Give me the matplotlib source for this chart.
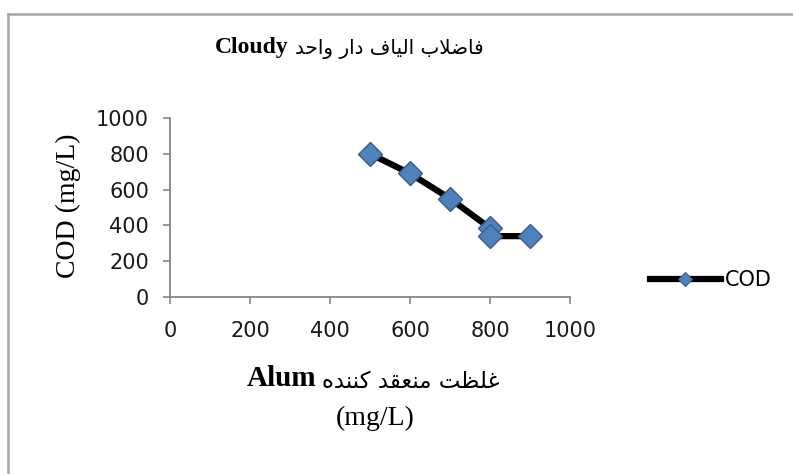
import matplotlib
matplotlib.use("Agg")
import matplotlib.pyplot as plt
from matplotlib.lines import Line2D

# COD left after coagulation, against alum dose (mg/L)
alum_dose = [500, 600, 700, 800, 800, 900]
cod = [800, 690, 550, 385, 340, 340]
x_ticks = [0, 200, 400, 600, 800, 1000]
y_ticks = [0, 200, 400, 600, 800, 1000]
series_name = "COD"

# Persian words already in presentation forms and in display order
# (matplotlib does no Arabic shaping / right-to-left layout by itself)
title_fa = ("\uFEAA\uFEA3\uFE8D\uFEED" + " " +          # واحد
            "\uFEAD\uFE8D\uFEA9" + " " +                # دار
            "\uFED1\uFE8E\uFEF4\uFEDF\uFE8D" + " " +    # الیاف
            "\uFE8F\uFEFC\uFEBF\uFE8E\uFED3")           # فاضلاب
xlabel_fa = ("\uFEE9\uFEAA\uFEE8\uFEE8\uFB90" + " " +   # کننده
             "\uFEAA\uFED8\uFECC\uFEE8\uFEE3" + " " +   # منعقد
             "\uFE96\uFEC8\uFEE0\uFECF")                # غلظت

W, H = 793, 474
BLUE = "#4F81BD"
BLUE_EDGE = "#385D8A"
AXIS_GREY = "#868686"


def fx(px):
    return px / W


def fy(py):
    return 1 - py / H


fig = plt.figure(figsize=(W / 100, H / 100), dpi=100)
fig.patch.set_facecolor("white")

ax = fig.add_axes([fx(170), fy(297), fx(570) - fx(170), fy(118) - fy(297)])
ax.plot(alum_dose, cod, color="black", lw=4.5, marker="D", ms=12,
        mfc=BLUE, mec=BLUE_EDGE, mew=1, clip_on=False, zorder=3)

ax.set_xlim(0, 1000)
ax.set_ylim(0, 1000)
ax.set_xticks(x_ticks)
ax.set_yticks(y_ticks)
for side in ["top", "right"]:
    ax.spines[side].set_visible(False)
for side in ["left", "bottom"]:
    ax.spines[side].set_color(AXIS_GREY)
    ax.spines[side].set_linewidth(1.3)
ax.tick_params(axis="both", direction="out", length=5, width=1.2,
               color=AXIS_GREY, labelsize=15, labelcolor="#1a1a1a")
ax.tick_params(axis="y", pad=10)
ax.tick_params(axis="x", pad=12)
for lab in ax.get_xticklabels() + ax.get_yticklabels():
    lab.set_family("DejaVu Sans")

# axis titles
fig.text(fx(68), fy(206), "COD (mg/L)", rotation=90, ha="center", va="center",
         family="Liberation Serif", fontsize=20)
fig.text(fx(316), fy(379), "Alum", ha="right", va="center",
         family="Liberation Serif", fontsize=21, fontweight="bold")
fig.text(fx(322), fy(382), xlabel_fa, ha="left", va="center",
         family="DejaVu Sans", fontsize=16.5)
fig.text(fx(375), fy(418), "(mg/L)", ha="center", va="center",
         family="Liberation Serif", fontsize=20)

# chart title
fig.text(fx(289), fy(47), "Cloudy", ha="right", va="center",
         family="Liberation Serif", fontsize=17, fontweight="bold")
fig.text(fx(295), fy(49), title_fa, ha="left", va="center",
         family="DejaVu Sans", fontsize=14.3)

# legend
handle = Line2D([], [], color="black", lw=4.5, marker="D", ms=7,
                mfc=BLUE, mec=BLUE_EDGE, mew=0.8)
fig.legend([handle], [series_name], loc="center left",
           bbox_to_anchor=(fx(631), fy(280)), frameon=False,
           handlelength=3.4, handletextpad=0.2,
           prop={"family": "DejaVu Sans", "size": 15})

# outer chart frame (left and top edges)
fig.add_artist(Line2D([fx(8), fx(8)], [0, fy(14)], transform=fig.transFigure,
                      color="#a6a6a6", lw=1.8))
fig.add_artist(Line2D([fx(8), 1], [fy(14), fy(14)], transform=fig.transFigure,
                      color="#a6a6a6", lw=1.8))

fig.savefig("out.png", dpi=100)
